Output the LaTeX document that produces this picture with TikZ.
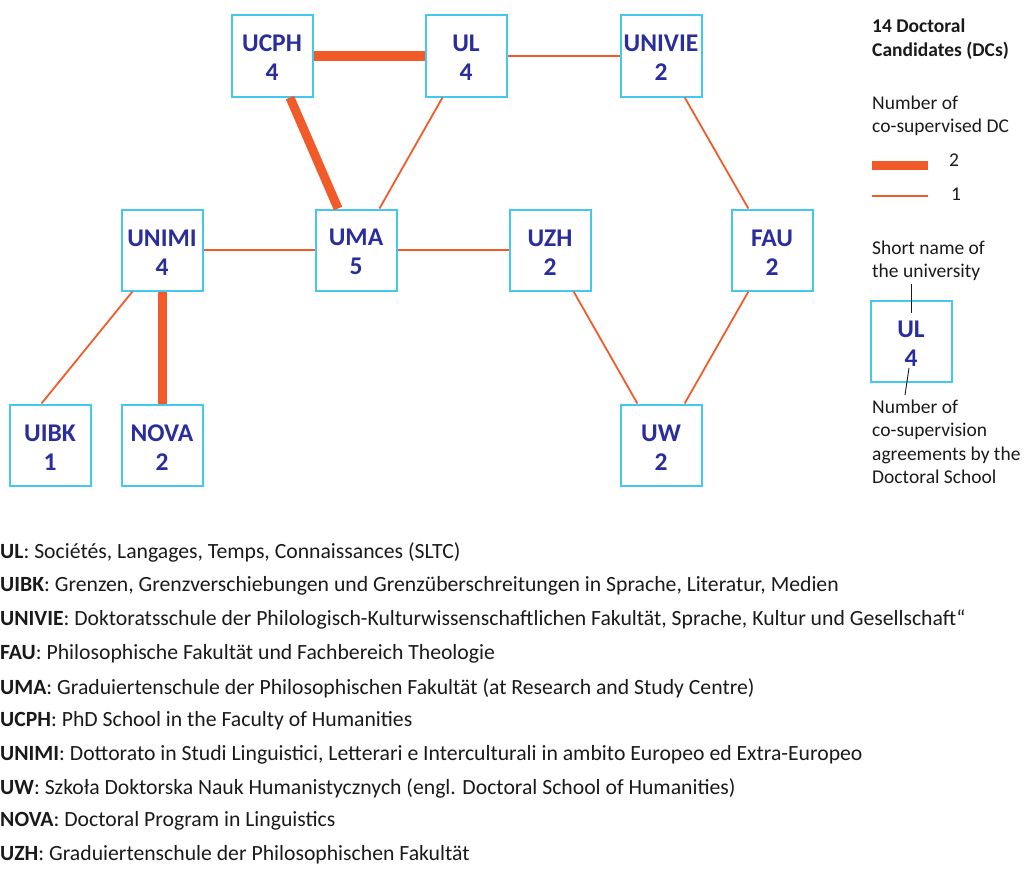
\documentclass[tikz,border=0pt]{standalone}
\usepackage{fontspec}
\setmainfont{Carlito}
\definecolor{boxcyan}{HTML}{45C8F0}
\definecolor{boxblue}{HTML}{2A2E9C}
\definecolor{edgeor}{HTML}{F15A29}
\definecolor{txt}{HTML}{1A1A1A}
\newcommand{\uni}[2]{\rule{0pt}{21pt}#1\\#2}
\begin{document}
\begin{tikzpicture}[x=1pt,y=-1pt,
  unibox/.style={draw=boxcyan, line width=2pt, fill=white, minimum width=81pt, minimum height=81pt,
    inner sep=0pt, font=\bfseries\fontsize{25.5}{29}\selectfont, text=boxblue, align=center},
  thinedge/.style={draw=edgeor, line width=1.8pt},
  thickedge/.style={draw=edgeor, line width=9pt},
  legtext/.style={anchor=west, inner sep=0pt, font=\fontsize{19.5}{23.5}\selectfont, text=txt, align=left},
  desc/.style={anchor=west, inner sep=0pt, font=\fontsize{21.7}{24}\selectfont, text=txt},
  pointer/.style={draw=txt, line width=0.9pt}]
\useasboundingbox (0,0) rectangle (1024,883);
% nodes
\node[unibox] (ucph) at (272,56) {\uni{UCPH}{4}};
\node[unibox] (ul) at (466,56) {\uni{UL}{4}};
\node[unibox] (univie) at (661,56) {\uni{UNIVIE}{2}};
\node[unibox] (unimi) at (162,250) {\uni{UNIMI}{4}};
\node[unibox] (uma) at (356,250) {\uni{UMA}{5}};
\node[unibox] (uzh) at (550,250) {\uni{UZH}{2}};
\node[unibox] (fau) at (772,250) {\uni{FAU}{2}};
\node[unibox] (uibk) at (50,445) {\uni{UIBK}{1}};
\node[unibox] (nova) at (162,445) {\uni{NOVA}{2}};
\node[unibox] (uw) at (661,445) {\uni{UW}{2}};
% edges
\draw[thickedge] (ucph) -- (ul);
\draw[thickedge] (ucph) -- (uma);
\draw[thinedge] (ul) -- (uma);
\draw[thinedge] (ul) -- (univie);
\draw[thinedge] (univie) -- (fau);
\draw[thinedge] (unimi) -- (uma);
\draw[thinedge] (uma) -- (uzh);
\draw[thickedge] (unimi) -- (nova);
\draw[thinedge] ([xshift=12pt]unimi.south west) -- ([xshift=-50pt]uibk.north east);
\draw[thinedge] (uzh) -- (uw);
\draw[thinedge] (fau) -- (uw);
% legend
\node[legtext, font=\bfseries\fontsize{19.5}{23.5}\selectfont] (title) at (872,39) {14 Doctoral\\Candidates (DCs)};
\node[legtext] (numco) at (872,116) {Number of\\co-supervised DC};
\coordinate (l2a) at (872,165); \coordinate (l2b) at (928,165);
\coordinate (l1a) at (872,196); \coordinate (l1b) at (928,196);
\draw[thickedge] (l2a) -- (l2b);
\draw[thinedge] (l1a) -- (l1b);
\node[legtext] (two) at (949,160) {2};
\node[legtext] (one) at (951,194) {1};
\node[legtext] (short) at (872,261) {Short name of\\the university};
\node[unibox] (legbox) at (911,341) {\uni{UL}{4}};
\coordinate (p1a) at (911,284); \coordinate (p1b) at (911,313);
\coordinate (p2a) at (909,368); \coordinate (p2b) at (905,395);
\draw[pointer] (p1a) -- (p1b);
\draw[pointer] (p2a) -- (p2b);
\node[legtext] (numag) at (872,442) {Number of\\co-supervision\\agreements by the\\Doctoral School};
% descriptions
\node[desc] (d1) at (0,552) {\textbf{UL}: Sociétés, Langages, Temps, Connaissances (SLTC)};
\node[desc] (d2) at (0,586) {\textbf{UIBK}: Grenzen, Grenzverschiebungen und Grenzüberschreitungen in Sprache, Literatur, Medien};
\node[desc] (d3) at (0,620) {\textbf{UNIVIE}: Doktoratsschule der Philologisch-Kulturwissenschaftlichen Fakultät, Sprache, Kultur und Gesellschaft“};
\node[desc] (d4) at (0,654) {\textbf{FAU}: Philosophische Fakultät und Fachbereich Theologie};
\node[desc] (d5) at (0,688) {\textbf{UMA}: Graduiertenschule der Philosophischen Fakultät (at Research and Study Centre)};
\node[desc] (d6) at (0,721) {\textbf{UCPH}: PhD School in the Faculty of Humanities};
\node[desc] (d7) at (0,755) {\textbf{UNIMI}: Dottorato in Studi Linguistici, Letterari e Interculturali in ambito Europeo ed Extra-Europeo};
\node[desc] (d8) at (0,788) {\textbf{UW}: Szkoła Doktorska Nauk Humanistycznych (engl. Doctoral School of Humanities)};
\node[desc] (d9) at (0,821) {\textbf{NOVA}: Doctoral Program in Linguistics};
\node[desc] (d10) at (0,855) {\textbf{UZH}: Graduiertenschule der Philosophischen Fakultät};
\end{tikzpicture}
\end{document}
